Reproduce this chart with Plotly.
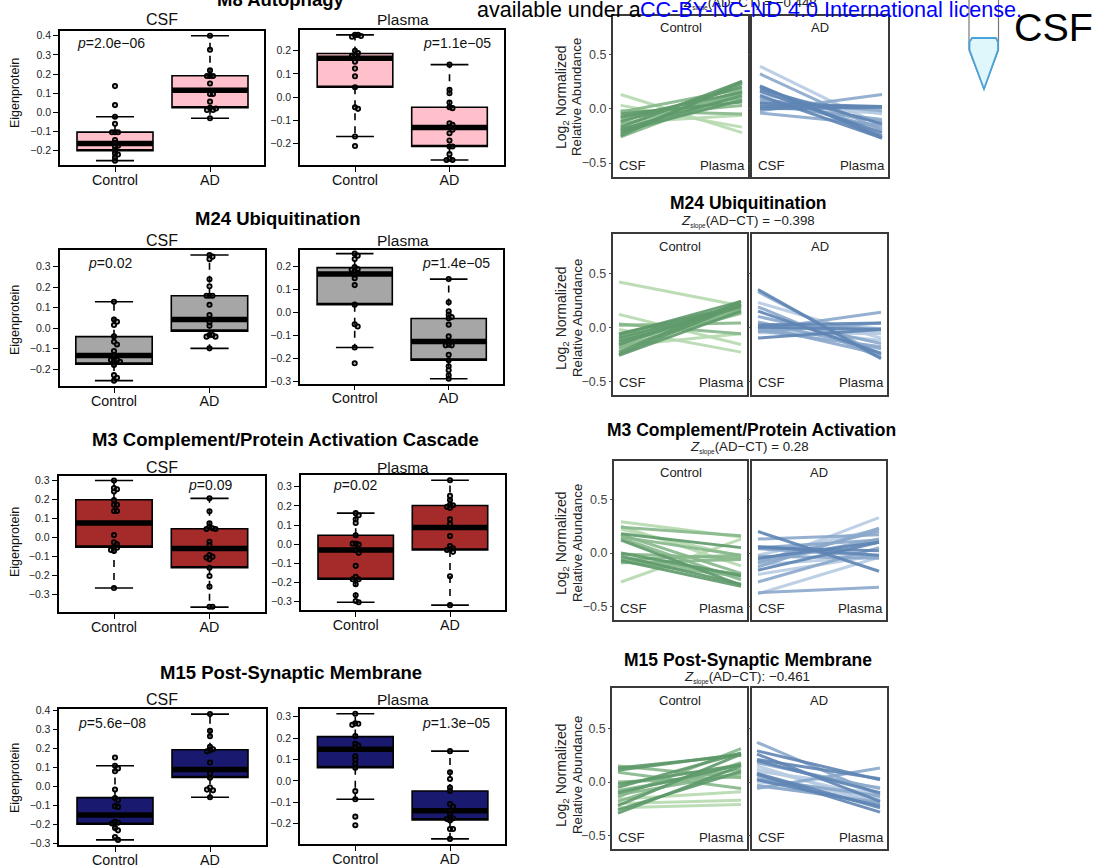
import plotly.graph_objects as go

W, H = 1094, 867
FONT = "Liberation Sans"

# ---------- data: box stats are [lower whisker, q1, median, q3, upper whisker] ----------
M8_CSF_CT_BOX = [-0.252, -0.200, -0.162, -0.103, -0.023]
M8_CSF_AD_BOX = [-0.031, 0.024, 0.115, 0.191, 0.400]
M8_PL_CT_BOX = [-0.169, 0.043, 0.168, 0.188, 0.268]
M8_PL_AD_BOX = [-0.270, -0.212, -0.130, -0.043, 0.140]
M24_CSF_CT_BOX = [-0.257, -0.176, -0.134, -0.042, 0.129]
M24_CSF_AD_BOX = [-0.099, -0.015, 0.042, 0.158, 0.357]
M24_PL_CT_BOX = [-0.151, 0.035, 0.168, 0.196, 0.257]
M24_PL_AD_BOX = [-0.287, -0.206, -0.125, -0.025, 0.146]
M3_CSF_CT_BOX = [-0.265, -0.051, 0.075, 0.197, 0.297]
M3_CSF_AD_BOX = [-0.365, -0.159, -0.058, 0.045, 0.204]
M3_PL_CT_BOX = [-0.303, -0.183, -0.030, 0.047, 0.162]
M3_PL_AD_BOX = [-0.318, -0.030, 0.087, 0.202, 0.334]
M15_CSF_CT_BOX = [-0.280, -0.198, -0.150, -0.058, 0.109]
M15_CSF_AD_BOX = [-0.056, 0.047, 0.089, 0.193, 0.380]
M15_PL_CT_BOX = [-0.086, 0.062, 0.148, 0.207, 0.314]
M15_PL_AD_BOX = [-0.271, -0.182, -0.139, -0.047, 0.139]

M8_CSF_CT_PTS = [0.137, 0.038, -0.023, -0.06, -0.104, -0.104, -0.104, -0.144, -0.16, -0.174, -0.178, -0.197, -0.214, -0.22, -0.235, -0.252]
M8_CSF_AD_PTS = [0.4, 0.327, 0.219, 0.19, 0.19, 0.19, 0.151, 0.096, 0.096, 0.056, 0.024, 0.012, 0.012, 0.02, -0.031]
M8_PL_CT_PTS = [0.268, 0.268, 0.26, 0.263, 0.20, 0.19, 0.18, 0.178, 0.168, 0.153, 0.123, 0.09, 0.043, -0.043, -0.05, -0.169, -0.21]
M8_PL_AD_PTS = [0.14, 0.032, 0.017, -0.023, -0.043, -0.047, -0.112, -0.119, -0.129, -0.14, -0.155, -0.186, -0.212, -0.212, -0.245, -0.265, -0.27, -0.27]
M24_CSF_CT_PTS = [0.129, 0.042, 0.031, 0.015, -0.04, -0.067, -0.08, -0.112, -0.132, -0.156, -0.156, -0.156, -0.165, -0.18, -0.23, -0.243, -0.257]
M24_CSF_AD_PTS = [0.357, 0.349, 0.337, 0.239, 0.204, 0.158, 0.158, 0.158, 0.114, 0.064, 0.028, 0.011, -0.034, -0.034, -0.042, -0.042, -0.099]
M24_PL_CT_PTS = [0.257, 0.248, 0.233, 0.198, 0.19, 0.187, 0.18, 0.172, 0.165, 0.15, 0.12, 0.035, -0.05, -0.06, -0.151, -0.22]
M24_PL_AD_PTS = [0.146, 0.045, 0.006, -0.009, -0.019, -0.024, -0.052, -0.103, -0.139, -0.142, -0.142, -0.183, -0.207, -0.233, -0.25, -0.272, -0.287]
M3_CSF_CT_PTS = [0.297, 0.258, 0.252, 0.24, 0.195, 0.17, 0.17, 0.138, 0.138, 0.012, -0.026, -0.037, -0.051, -0.054, -0.066, -0.071, -0.265]
M3_CSF_AD_PTS = [0.204, 0.136, 0.073, 0.056, 0.047, 0.044, 0.044, -0.023, -0.04, -0.092, -0.101, -0.115, -0.106, -0.159, -0.202, -0.258, -0.363, -0.363]
M3_PL_CT_PTS = [0.162, 0.151, 0.13, 0.111, 0.047, 0.003, -0.002, 0.003, -0.031, -0.045, -0.113, -0.17, -0.183, -0.183, -0.209, -0.266, -0.296, -0.303]
M3_PL_AD_PTS = [0.334, 0.252, 0.23, 0.206, 0.203, 0.19, 0.195, 0.13, 0.106, 0.043, -0.01, -0.022, -0.026, -0.03, -0.04, -0.167, -0.318]
M15_CSF_CT_PTS = [0.152, 0.109, 0.095, 0.08, -0.016, -0.06, -0.072, -0.103, -0.107, -0.185, -0.19, -0.194, -0.217, -0.23, -0.265, -0.28]
M15_CSF_AD_PTS = [0.38, 0.292, 0.264, 0.208, 0.196, 0.19, 0.185, 0.126, 0.068, 0.046, -0.005, -0.02, -0.016, -0.056]
M15_PL_CT_PTS = [0.314, 0.269, 0.267, 0.262, 0.209, 0.173, 0.165, 0.157, 0.115, 0.1, 0.08, 0.062, -0.048, -0.086, -0.167, -0.207]
M15_PL_AD_PTS = [0.139, 0.04, 0.009, -0.031, -0.047, -0.108, -0.12, -0.139, -0.155, -0.17, -0.175, -0.178, -0.185, -0.225, -0.225, -0.271]

# slope panels: value at CSF, value at Plasma, shade (0 light, 1 mid, 2 dark)
M8_CT_CSF = [0.13, 0.03, -0.02, -0.03, -0.05, -0.07, -0.08, -0.10, -0.12, -0.13, -0.15, -0.17, -0.19, -0.20, -0.21, -0.23, -0.25, -0.26]
M8_CT_PL = [-0.22, -0.17, -0.05, 0.18, 0.06, 0.03, 0.15, 0.10, 0.20, -0.06, 0.14, 0.25, 0.12, 0.17, 0.08, 0.23, 0.25, 0.16]
M8_CT_SH = [0, 0, 1, 1, 2, 1, 2, 1, 2, 0, 1, 2, 2, 1, 2, 2, 2, 1]
M8_AD_CSF = [0.39, 0.32, 0.21, 0.20, 0.18, 0.16, 0.13, 0.12, 0.10, 0.08, 0.06, 0.05, 0.04, 0.02, 0.01, 0.00, -0.02, -0.04]
M8_AD_PL = [-0.16, -0.20, -0.27, -0.25, -0.14, -0.22, -0.05, -0.27, -0.18, -0.02, -0.12, 0.02, -0.10, 0.02, -0.04, 0.01, 0.13, -0.15]
M8_AD_SH = [0, 1, 2, 2, 2, 2, 0, 2, 1, 1, 1, 2, 1, 2, 0, 2, 1, 1]
M24_CT_CSF = [0.42, 0.12, 0.03, 0.02, -0.02, -0.06, -0.07, -0.09, -0.10, -0.12, -0.13, -0.15, -0.16, -0.17, -0.18, -0.20, -0.23, -0.25, -0.26]
M24_CT_PL = [0.20, -0.16, -0.06, 0.04, -0.23, 0.20, 0.24, 0.16, 0.21, 0.14, 0.19, 0.17, 0.22, -0.06, 0.13, 0.18, 0.24, 0.21, 0.15]
M24_CT_SH = [0, 0, 1, 1, 0, 2, 2, 1, 2, 1, 2, 1, 2, 0, 1, 1, 2, 2, 2]
M24_AD_CSF = [0.35, 0.33, 0.23, 0.19, 0.15, 0.10, 0.05, 0.03, 0.02, 0.01, 0.01, 0.00, -0.01, -0.02, -0.03, -0.04, -0.05, -0.10]
M24_AD_PL = [-0.29, -0.26, -0.10, -0.28, -0.24, -0.15, -0.20, -0.01, 0.04, -0.05, -0.25, -0.02, -0.12, 0.14, -0.18, 0.04, -0.06, -0.02]
M24_AD_SH = [2, 1, 0, 1, 2, 1, 1, 1, 2, 0, 1, 2, 0, 1, 1, 1, 0, 2]
M3_CT_CSF = [0.29, 0.25, 0.24, 0.22, 0.18, 0.17, 0.15, 0.14, 0.12, 0.00, -0.01, -0.03, -0.05, -0.06, -0.07, -0.08, -0.09, -0.27]
M3_CT_PL = [0.15, -0.12, 0.16, -0.03, 0.05, -0.19, -0.02, -0.25, -0.30, -0.21, -0.05, -0.29, -0.20, -0.02, -0.31, -0.22, -0.06, 0.13]
M3_CT_SH = [0, 0, 1, 0, 2, 1, 1, 1, 2, 2, 1, 2, 1, 1, 2, 1, 1, 0]
M3_AD_CSF = [0.20, 0.13, 0.06, 0.05, 0.05, 0.04, -0.02, -0.03, -0.05, -0.07, -0.09, -0.10, -0.11, -0.13, -0.16, -0.20, -0.27, -0.37, -0.38]
M3_AD_PL = [-0.17, 0.17, -0.02, 0.02, 0.12, -0.03, 0.22, -0.05, 0.10, 0.20, 0.13, 0.33, -0.03, 0.23, 0.10, -0.02, 0.05, -0.32, -0.04]
M3_AD_SH = [2, 1, 2, 2, 1, 1, 0, 1, 2, 1, 1, 0, 0, 1, 2, 0, 1, 1, 0]
M15_CT_CSF = [0.15, 0.13, 0.11, 0.09, 0.00, -0.02, -0.05, -0.08, -0.10, -0.12, -0.14, -0.16, -0.18, -0.20, -0.22, -0.24, -0.26, -0.29]
M15_CT_PL = [0.04, 0.25, 0.26, -0.06, 0.05, 0.16, 0.27, 0.12, 0.16, 0.08, 0.31, -0.09, 0.18, -0.17, 0.26, -0.21, 0.10, 0.15]
M15_CT_SH = [1, 2, 2, 1, 1, 2, 2, 1, 2, 1, 1, 0, 1, 0, 2, 0, 2, 2]
M15_AD_CSF = [0.37, 0.29, 0.26, 0.21, 0.20, 0.18, 0.15, 0.12, 0.10, 0.08, 0.07, 0.05, 0.03, 0.02, 0.00, -0.03, -0.04, -0.06]
M15_AD_PL = [-0.12, 0.02, -0.18, 0.03, -0.10, -0.06, -0.20, -0.15, -0.05, -0.24, -0.28, -0.17, -0.13, -0.22, -0.10, -0.19, -0.16, 0.13]
M15_AD_SH = [1, 2, 2, 2, 2, 1, 0, 0, 0, 2, 2, 0, 1, 2, 0, 1, 0, 1]

GROUPS = ["Control", "AD"]
POSITIONS = [1, 2]
COLORS = ["#ffc0cb", "#a6a6a6", "#a52a2a", "#191970"]
GREENS = ["#b6dab0", "#86b88a", "#5f9a6b"]
BLUES = ["#b7cce3", "#8aa8cb", "#5f85b4"]

BOX_PANELS = [
    (60, 264, 31, 165, (0.4, 35.7, -0.2, 150.7), 115, 210, (-0.2, 0.4), M8_CSF_CT_BOX, M8_CSF_AD_BOX, M8_CSF_CT_PTS, M8_CSF_AD_PTS, 0),
    (300, 504, 30, 165, (0.2, 50.7, -0.2, 143.7), 355, 449.5, (-0.2, 0.2), M8_PL_CT_BOX, M8_PL_AD_BOX, M8_PL_CT_PTS, M8_PL_AD_PTS, 0),
    (59.5, 265, 250, 386, (0.3, 266.7, -0.2, 369), 114, 209.5, (-0.2, 0.3), M24_CSF_CT_BOX, M24_CSF_AD_BOX, M24_CSF_CT_PTS, M24_CSF_AD_PTS, 1),
    (300, 503, 250, 383.5, (0.2, 266.7, -0.3, 381.7), 354.7, 448.7, (-0.3, 0.2), M24_PL_CT_BOX, M24_PL_AD_BOX, M24_PL_CT_PTS, M24_PL_AD_PTS, 1),
    (58.5, 265.3, 476, 612, (0.3, 480, -0.3, 594.7), 114, 209.5, (-0.3, 0.3), M3_CSF_CT_BOX, M3_CSF_AD_BOX, M3_CSF_CT_PTS, M3_CSF_AD_PTS, 2),
    (300.7, 505, 475, 610, (0.3, 486.7, -0.3, 601.7), 355.7, 450, (-0.3, 0.3), M3_PL_CT_BOX, M3_PL_AD_BOX, M3_PL_CT_PTS, M3_PL_AD_PTS, 2),
    (59.3, 266, 709, 844.7, (0.4, 710.3, -0.3, 843.7), 115, 210, (-0.3, 0.4), M15_CSF_CT_BOX, M15_CSF_AD_BOX, M15_CSF_CT_PTS, M15_CSF_AD_PTS, 3),
    (300, 504.7, 708.7, 844, (0.3, 716.7, -0.2, 823.7), 355.3, 450, (-0.2, 0.3), M15_PL_CT_BOX, M15_PL_AD_BOX, M15_PL_CT_PTS, M15_PL_AD_PTS, 3),
]
LINE_PANELS = [
    (613, 748, 16, 177, 54.3, 163, 620.7, 742, M8_CT_CSF, M8_CT_PL, M8_CT_SH, GREENS, True, "Control"),
    (752, 888, 16, 177, 54.3, 163, 760, 882, M8_AD_CSF, M8_AD_PL, M8_AD_SH, BLUES, False, "AD"),
    (612.7, 747.3, 234.3, 395, 273.3, 381.3, 619, 741, M24_CT_CSF, M24_CT_PL, M24_CT_SH, GREENS, True, "Control"),
    (751.7, 887.3, 234.3, 395, 273.3, 381.3, 758, 881, M24_AD_CSF, M24_AD_PL, M24_AD_SH, BLUES, False, "AD"),
    (614, 747.3, 460.7, 620, 499.3, 606.7, 621, 741, M3_CT_CSF, M3_CT_PL, M3_CT_SH, GREENS, True, "Control"),
    (752.3, 885.7, 460.7, 620, 499.3, 606.7, 758, 879, M3_AD_CSF, M3_AD_PL, M3_AD_SH, BLUES, False, "AD"),
    (612.3, 747.3, 688.3, 849.3, 728.3, 835.7, 618, 741, M15_CT_CSF, M15_CT_PL, M15_CT_SH, GREENS, True, "Control"),
    (751.7, 886.7, 688.3, 849.3, 728.3, 835.7, 757, 880, M15_AD_CSF, M15_AD_PL, M15_AD_SH, BLUES, False, "AD"),
]


def fx(p):
    return p / W


def fy(p):
    return 1 - p / H


fig = go.Figure()
annotations = []
shapes = []


def ann(text, x, y, size, anchor="center", color="#111111", angle=0):
    annotations.append(dict(text=text, x=fx(x), y=fy(y), xref="paper", yref="paper",
                            showarrow=False, xanchor=anchor, yanchor="middle", textangle=angle,
                            font=dict(family=FONT, size=size, color=color), borderpad=0, borderwidth=0))


def swarm(values, px_per_val, px_per_cat, r=3.0):
    placed = []
    out = []
    for v in values:
        py = v * px_per_val
        k = 0
        while True:
            off = ((k + 1) // 2) * 3.0 * (1 if k % 2 else -1) if k else 0.0
            if all((off - a) ** 2 + (py - b) ** 2 >= r * r for a, b in placed):
                break
            k += 1
        placed.append((off, py))
        out.append(off / px_per_cat)
    return out


def set_axes(n, left, right, top, bottom, xr, yr, xa, ya):
    sx = "" if n == 1 else str(n)
    fig.layout["xaxis" + sx] = dict(domain=[fx(left), fx(right)], range=xr, anchor="y" + sx, **xa)
    fig.layout["yaxis" + sx] = dict(domain=[fy(bottom), fy(top)], range=yr, anchor="x" + sx, **ya)
    return "x" + sx, "y" + sx


n = 0
for left, right, top, bottom, cal, c1, c2, tick_span, box1, box2, pts1, pts2, ci in BOX_PANELS:
    n += 1
    va, pa, vb, pb = cal
    ppv = (pb - pa) / (va - vb)
    yr = [va - (bottom - pa) / ppv, va + (pa - top) / ppv]
    ppc = c2 - c1
    xr = [1 + (left - c1) / ppc, 1 + (right - c1) / ppc]
    lo, hi = tick_span
    count = round((hi - lo) * 10)
    tickvals = [round(lo + i * 0.1, 1) for i in range(count + 1)]
    common = dict(showline=True, mirror=True, linecolor="#000000", linewidth=1.6, showgrid=False, zeroline=False,
                  ticks="outside", ticklen=5, tickwidth=1.4, tickcolor="#000000", automargin=False)
    xa = dict(common, tickvals=POSITIONS, ticktext=GROUPS, ticklabelstandoff=-4,
              tickfont=dict(family=FONT, size=14.3, color="#111111"))
    ya = dict(common, tickvals=tickvals, tickformat=".1f", tickfont=dict(family=FONT, size=10.5, color="#222222"))
    xn, yn = set_axes(n, left, right, top, bottom, xr, yr, xa, ya)
    for pos, box, pts in ((POSITIONS[0], box1, pts1), (POSITIONS[1], box2, pts2)):
        lf, q1, med, q3, uf = box
        fig.add_trace(go.Box(x=[pos], q1=[q1], median=[q1], q3=[q3], lowerfence=[q1], upperfence=[q3],
                             width=0.8, fillcolor=COLORS[ci], line=dict(color="#000000", width=1.6),
                             xaxis=xn, yaxis=yn, hoverinfo="skip", boxpoints=False))
        fig.add_trace(go.Scatter(x=[pos, pos, None, pos, pos], y=[q3, uf, None, q1, lf], mode="lines",
                                 line=dict(color="#000000", width=1.6, dash="7px,6px"), xaxis=xn, yaxis=yn, hoverinfo="skip"))
        fig.add_trace(go.Scatter(x=[pos - 0.2, pos + 0.2, None, pos - 0.2, pos + 0.2], y=[uf, uf, None, lf, lf], mode="lines",
                                 line=dict(color="#000000", width=1.6), xaxis=xn, yaxis=yn, hoverinfo="skip"))
        fig.add_trace(go.Scatter(x=[pos - 0.4, pos + 0.4], y=[med, med], mode="lines",
                                 line=dict(color="#000000", width=5.5), xaxis=xn, yaxis=yn, hoverinfo="skip"))
        offs = swarm(pts, ppv, ppc)
        fig.add_trace(go.Scatter(x=[pos + o for o in offs], y=pts, mode="markers",
                                 marker=dict(size=4.3, color="rgba(40,40,40,0.35)", line=dict(color="#000000", width=1.8)),
                                 xaxis=xn, yaxis=yn, hoverinfo="skip"))

for left, right, top, bottom, p05, pm05, pc, pp, csf, pl, sh, pal, lab, header in LINE_PANELS:
    n += 1
    ppv = (pm05 - p05)
    p0 = (p05 + pm05) / 2
    yr = [-(bottom - p0) / ppv, (p0 - top) / ppv]
    ppc = pp - pc
    xr = [1 + (left - pc) / ppc, 1 + (right - pc) / ppc]
    common = dict(showline=True, mirror=True, linecolor="#3a3a3a", linewidth=2, showgrid=False, zeroline=False, automargin=False)
    xa = dict(common, showticklabels=False, ticks="", tickvals=[])
    ya = dict(common, tickvals=[-0.5, 0, 0.5], tickformat=".1f", ticks="outside", ticklen=2, tickwidth=1,
              tickcolor="#555555", showticklabels=lab,
              tickfont=dict(family=FONT, size=12.5, color="#444444"))
    xn, yn = set_axes(n, left, right, top, bottom, xr, yr, xa, ya)
    for level in (0, 1, 2):
        for a, b, s in zip(csf, pl, sh):
            if s == level:
                fig.add_trace(go.Scatter(x=[1, 2], y=[a, b], mode="lines", opacity=0.9,
                                         line=dict(color=pal[s], width=3), xaxis=xn, yaxis=yn, hoverinfo="skip"))
    cx = (left + right) / 2
    ann(header, cx, top + 12, 13, color="#222222")
    ann("CSF", left + 6, bottom - 12, 13.3, "left", "#222222")
    ann("Plasma", right - 3, bottom - 12, 13.3, "right", "#222222")

# ---------- box plot headers ----------
LEFT_TITLES = [("M8 Autophagy", 280, -1), ("M24 Ubiquitination", 277.5, 218.5), ("M3 Complement/Protein Activation Cascade", 285.5, 439.5), ("M15 Post-Synaptic Membrane", 291, 672.5)]
for t, x, y in LEFT_TITLES:
    ann("<b>" + t + "</b>", x, y, 18.5, color="#000000")
for y in (20, 241, 467, 699):
    ann("CSF", 162, y, 16)
    ann("Plasma", 403, y, 15.5)
for y in (93, 320, 542, 778):
    ann("Eigenprotein", 15, y, 12.5, angle=-90)
P_TEXTS = [("2.0e−06", 77, 42.5), ("1.1e−05", 423, 42.5), ("0.02", 88, 262.5), ("1.4e−05", 422, 262.5),
           ("0.09", 188, 485.5), ("0.02", 333, 485.5), ("5.6e−08", 78, 722.5), ("1.3e−05", 422, 722.5)]
for t, x, y in P_TEXTS:
    ann("<i>p</i>=" + t, x, y, 14, "left")

# ---------- slope plot headers ----------
RIGHT_TITLES = [("M24 Ubiquitination", 748.5, 203), ("M3 Complement/Protein Activation", 751, 430), ("M15 Post-Synaptic Membrane", 747.5, 660)]
for t, x, y in RIGHT_TITLES:
    ann("<b>" + t + "</b>", x, y, 17.5, color="#000000")
SUBS = [(" = −0.448", 750, 4), (" = −0.398", 748, 222), (" = 0.28", 749, 448), (": −0.461", 747, 677)]
for t, x, y in SUBS:
    ann('<i>Z</i><sub><span style="font-size:6.5px">slope</span></sub>(AD−CT)' + t, x, y, 13.3, color="#222222")
for y in (97, 318, 543, 775):
    ann("Log<sub>2</sub> Normalized", 562, y, 14, color="#222222", angle=-90)
    ann("Relative Abundance", 577, y, 13.3, color="#222222", angle=-90)

# ---------- page overlay ----------
ann("A", -1, -5, 14, "left", "#000000")
ann("available under a", 477, 10, 21.5, "left", "#000000")
ann("CC-BY-NC-ND 4.0 International license.", 640, 10, 21.6, "left", "#0000ff")
ann("CSF", 1014, 27, 39.5, "left", "#000000")


def path(points):
    return "M " + " L ".join(f"{fx(x):.5f},{fy(y):.5f}" for x, y in points)


tube_glass = [(969, -2), (969, 50), (984, 89), (998.5, 50), (998.5, -2)]
shapes.append(dict(type="path", path=path(tube_glass), xref="paper", yref="paper",
                   line=dict(color="#777777", width=1.2), fillcolor="rgba(0,0,0,0)"))
tube_liquid = [(969.5, 42), (972, 38), (996, 38), (998, 42), (998, 50), (984, 89), (969.5, 50)]
shapes.append(dict(type="path", path=path(tube_liquid) + " Z", xref="paper", yref="paper",
                   line=dict(color="#4aa3d8", width=1.8), fillcolor="#dff6fb"))

fig.update_layout(width=W, height=H, margin=dict(l=0, r=0, t=0, b=0, pad=0, autoexpand=False), autosize=False,
                  paper_bgcolor="white", plot_bgcolor="rgba(0,0,0,0)", showlegend=False,
                  annotations=annotations, shapes=shapes, font=dict(family=FONT))
fig.write_html("out.html", config=dict(displayModeBar=False),
               post_script="document.body.style.margin='0';document.body.style.overflow='hidden';")
